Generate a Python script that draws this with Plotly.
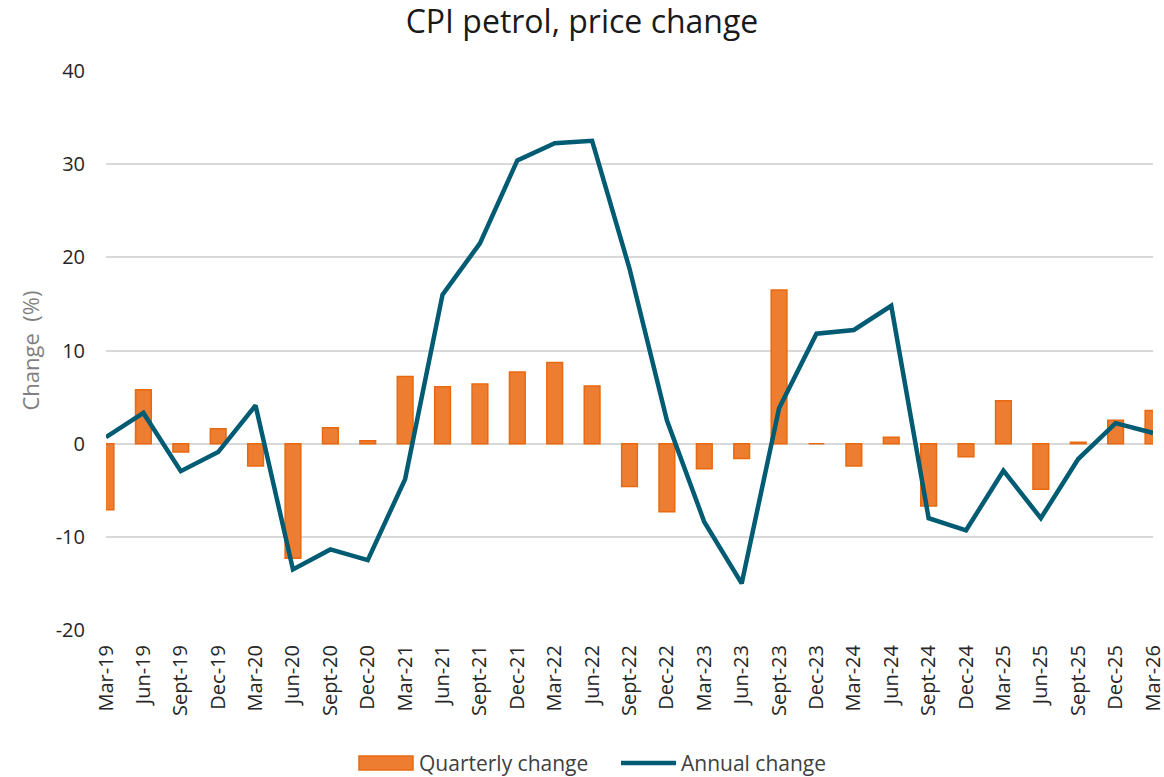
import plotly.graph_objects as go

categories = ["Mar-19", "Jun-19", "Sept-19", "Dec-19", "Mar-20", "Jun-20", "Sept-20", "Dec-20",
              "Mar-21", "Jun-21", "Sept-21", "Dec-21", "Mar-22", "Jun-22", "Sept-22", "Dec-22",
              "Mar-23", "Jun-23", "Sept-23", "Dec-23", "Mar-24", "Jun-24", "Sept-24", "Dec-24",
              "Mar-25", "Jun-25", "Sept-25", "Dec-25", "Mar-26"]

quarterly_change = [-7.1, 5.8, -0.9, 1.6, -2.4, -12.3, 1.7, 0.3,
                    7.2, 6.1, 6.4, 7.7, 8.7, 6.2, -4.6, -7.3,
                    -2.7, -1.6, 16.5, 0.0, -2.4, 0.7, -6.7, -1.4,
                    4.6, -4.9, 0.15, 2.5, 3.55]

annual_change = [0.7, 3.3, -2.95, -0.9, 4.1, -13.5, -11.35, -12.5,
                 -3.8, 16.0, 21.5, 30.4, 32.25, 32.5, 18.8, 2.5,
                 -8.4, -15.0, 3.8, 11.8, 12.2, 14.8, -8.0, -9.3,
                 -2.9, -8.0, -1.65, 2.2, 1.15]

y_ticks = [-20, -10, 0, 10, 20, 30, 40]
y_tick_labels = ["-20", "-10", "0", "10", "20", "30", "40"]

series_names = ["Quarterly change", "Annual change"]

FONT = "Open Sans, sans-serif"
BAR_FILL = "#ED7D31"
BAR_EDGE = "#E8690F"
LINE_COLOR = "#005B73"

W, H = 1164, 777
ML, MR, MT, MB = 106, 11, 71, 147
PW = W - ML - MR
PH = H - MT - MB


def px_x(x):
    return (x - ML) / PW


def px_y(y):
    return (H - MB - y) / PH


fig = go.Figure()
fig.add_trace(go.Bar(
    x=categories, y=quarterly_change, name=series_names[0],
    marker=dict(color=BAR_FILL, line=dict(color=BAR_EDGE, width=1.5)),
    width=0.42, showlegend=False,
))
fig.add_trace(go.Scatter(
    x=categories, y=annual_change, name=series_names[1], mode="lines",
    line=dict(color=LINE_COLOR, width=4.5), showlegend=False,
))

# Custom legend (wide bar swatch + line swatch), as in the reference
fig.add_shape(type="rect", xref="paper", yref="paper",
              x0=px_x(359), x1=px_x(413), y0=px_y(770), y1=px_y(756),
              fillcolor=BAR_FILL, line=dict(color=BAR_EDGE, width=1.5))
fig.add_annotation(xref="paper", yref="paper", x=px_x(417), y=px_y(763),
                   xanchor="left", yanchor="middle", showarrow=False,
                   text=series_names[0], font=dict(family=FONT, size=21, color="#404040"))
fig.add_shape(type="line", xref="paper", yref="paper",
              x0=px_x(621), x1=px_x(676), y0=px_y(763), y1=px_y(763),
              line=dict(color=LINE_COLOR, width=4.5))
fig.add_annotation(xref="paper", yref="paper", x=px_x(679), y=px_y(763),
                   xanchor="left", yanchor="middle", showarrow=False,
                   text=series_names[1], font=dict(family=FONT, size=21, color="#404040"))

# Y-axis title
fig.add_annotation(xref="paper", yref="paper", x=px_x(29), y=0.5,
                   xanchor="center", yanchor="middle", showarrow=False, textangle=-90,
                   text="Change  (%)", font=dict(family=FONT, size=22, color="#7f7f7f"))

fig.update_layout(
    width=W, height=H,
    paper_bgcolor="white", plot_bgcolor="white",
    margin=dict(l=ML, r=MR, t=MT, b=MB, autoexpand=False),
    font=dict(family=FONT, color="#404040", size=20),
    title=dict(text="CPI petrol, price change", x=0.5, xanchor="center",
               y=1 - 22 / H, yanchor="middle",
               font=dict(family=FONT, size=32, color="#1a1a1a")),
    showlegend=False,
    bargap=0.5,
)
fig.update_xaxes(
    type="category", range=[0, 28], tickangle=-90, automargin=False,
    showgrid=False, showline=False, ticks="", ticklabelstandoff=10,
    tickfont=dict(family=FONT, size=20, color="#262626"),
)
fig.update_yaxes(
    range=[-20, 40], tickvals=y_ticks, ticktext=y_tick_labels, automargin=False,
    showgrid=True, gridcolor="#D9D9D9", gridwidth=1.5,
    zeroline=True, zerolinecolor="#D9D9D9", zerolinewidth=1.5,
    ticks="", ticklabelstandoff=20,
    tickfont=dict(family=FONT, size=20, color="#262626"),
)

fig.write_html(
    "out.html",
    config={"displayModeBar": False},
    post_script="document.body.style.margin='0';document.body.style.overflow='hidden';",
)
